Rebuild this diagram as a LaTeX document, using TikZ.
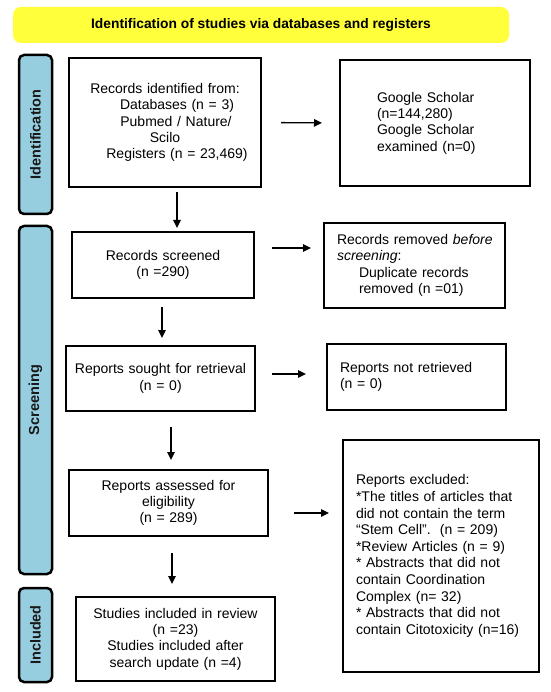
\documentclass[tikz,border=0pt]{standalone}
\usepackage{fontspec}
\setmainfont{Liberation Sans}
\usetikzlibrary{arrows.meta}
\definecolor{banner}{RGB}{255,255,60}
\definecolor{sideblue}{RGB}{150,206,224}
\begin{document}
\begin{tikzpicture}[x=1pt,y=-1pt,
  txt/.style={font=\fontsize{14pt}{16.3pt}\selectfont},
  cbox/.style={txt,draw=black,line width=2pt,inner xsep=0pt,inner ysep=0pt,align=center},
  lbox/.style={txt,draw=black,line width=2pt,inner xsep=0pt,inner ysep=0pt,align=left},
  side/.style={draw=black,line width=2.5pt,fill=sideblue,rounded corners=5pt,rotate=90,
    font=\fontsize{14.5pt}{16pt}\selectfont\bfseries,text=black!90,inner sep=0pt},
  arr/.style={line width=1.3pt,-{Triangle[length=8pt,width=7.5pt]}}]
\useasboundingbox (0,0) rectangle (550,692);
\fill[white] (0,0) rectangle (550,692);
% banner
\node[fill=banner,rounded corners=8pt,minimum width=496pt,minimum height=36pt,inner sep=0pt,
  font=\fontsize{13.8pt}{16pt}\selectfont\bfseries] (title) at (261,25)
  {Identification of studies via databases and registers};
% side labels
\node[side,minimum width=159pt,minimum height=33pt] (sid) at (35.5,134.5) {Identification};
\node[side,minimum width=348pt,minimum height=33pt] (sscr) at (35.5,400) {Screening};
\node[side,minimum width=94pt,minimum height=33pt] (sinc) at (35.5,635) {Included};
% boxes
\node[cbox,text width=192pt,minimum height=129pt] (b1) at (165,122.5)
  {Records identified from:\\\hspace*{24pt}Databases (n = 3)\\\hspace*{22pt}Pubmed / Nature/\\Scilo\\\hspace*{24pt}Registers (n = 23,469)};
\node[lbox,text width=190pt,minimum height=126pt] (b2) at (435,123)
  {\hspace*{37pt}Google Scholar\\\hspace*{37pt}(n=144,280)\\\hspace*{37pt}Google Scholar\\\hspace*{37pt}examined (n=0)};
\node[cbox,text width=182pt,minimum height=66pt] (b3) at (163,265)
  {Records screened\\(n =290)};
\node[lbox,text width=181pt,minimum height=85pt] (b4) at (414.5,265.5)
  {\hspace*{13pt}Records removed \textit{before}\\\hspace*{13pt}\textit{screening}:\\\hspace*{35pt}Duplicate records\\\hspace*{35pt}removed (n =01)};
\node[cbox,text width=189pt,minimum height=65pt] (b5) at (160.5,378.5)
  {Reports sought for retrieval\\(n = 0)};
\node[lbox,text width=179pt,minimum height=66pt] (b6) at (416.5,377)
  {\hspace*{13pt}Reports not retrieved\\\hspace*{13pt}(n = 0)};
\node[cbox,text width=199pt,minimum height=66pt] (b7) at (168.5,503)
  {Reports assessed for\\eligibility\\(n = 289)};
\node[lbox,text width=196pt,minimum height=232pt,font=\fontsize{14pt}{16.6pt}\selectfont] (b8) at (441,556)
  {\hspace*{13pt}Reports excluded:\\
   \hspace*{13pt}*The titles of articles that\\
   \hspace*{13pt}did not contain the term\\
   \hspace*{13pt}“Stem Cell”.\ \ (n = 209)\\
   \hspace*{13pt}*Review Articles (n = 9)\\
   \hspace*{13pt}* Abstracts that did not\\
   \hspace*{13pt}contain Coordination\\
   \hspace*{13pt}Complex (n= 32)\\
   \hspace*{13pt}* Abstracts that did not\\
   \hspace*{13pt}contain Citotoxicity (n=16)};
\node[cbox,text width=199pt,minimum height=84pt] (b9) at (175.5,639)
  {Studies included in review\\(n =23)\\Studies included after\\search update (n =4)};
% arrows
\draw[arr] ([xshift=12pt,yshift=-4pt]b1.south) -- ([xshift=14pt,yshift=3pt]b3.north);
\draw[arr,shorten <=19pt,shorten >=17pt] (b1.east) -- (b2.west);
\draw[arr,shorten <=17pt,shorten >=12pt] ([yshift=17pt]b3.east) -- ([yshift=17.5pt]b4.west);
\draw[arr] ([xshift=-1pt,yshift=-8pt]b3.south) -- ([xshift=1.5pt,yshift=7pt]b5.north);
\draw[arr,shorten <=16pt,shorten >=20pt] ([yshift=4.5pt]b5.east) -- ([yshift=3pt]b6.west);
\draw[arr] ([xshift=10.5pt,yshift=-15pt]b5.south) -- ([xshift=2.5pt,yshift=9pt]b7.north);
\draw[arr,shorten <=25pt,shorten >=13pt] ([yshift=-10pt]b7.east) -- ([yshift=43pt]b8.west);
\draw[arr] ([xshift=3.5pt,yshift=-16pt]b7.south) -- ([xshift=-3.5pt,yshift=12pt]b9.north);
\end{tikzpicture}
\end{document}
